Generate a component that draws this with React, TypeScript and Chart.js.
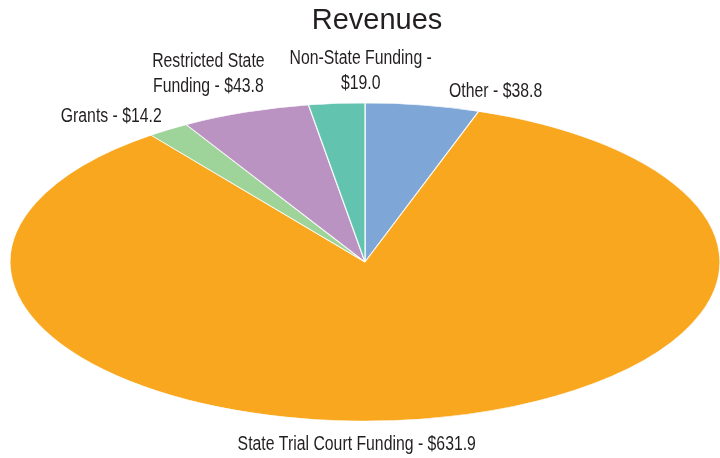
import React, { useEffect, useRef } from "react";
import { Chart, registerables } from "chart.js";

Chart.register(...registerables);

const categories = ["Other", "State Trial Court Funding", "Grants", "Restricted State Funding", "Non-State Funding"];
const values = [38.8, 631.9, 14.2, 43.8, 19.0];
const labelLines = [
  ["Other - $38.8"],
  ["State Trial Court Funding - $631.9"],
  ["Grants - $14.2"],
  ["Restricted State", "Funding - $43.8"],
  ["Non-State Funding -", "$19.0"],
];
const colors = ["#7EA7D8", "#F8A71E", "#9ED39A", "#BB93C3", "#62C3AE"];
// label offset from the slice's outer-edge midpoint (px)
const labelOffsets = [
  [73, -14],
  [-65, 26],
  [-57, -13],
  [-37, -38],
  [24, -33],
];

const CX = 365;
const CY = 262;
const RY = 159;
const RX = 355;
const SX = RX / RY;
const LABEL_FONT = "20px 'Liberation Sans', Arial, sans-serif";
const CONDENSE = 0.79;

export default function App() {
  const ref = useRef<HTMLCanvasElement | null>(null);
  useEffect(() => {
    if (!ref.current) return;
    const ellipse = {
      id: "ellipse",
      beforeDatasetsDraw(chart: any) {
        const ctx = chart.ctx;
        const m = chart.getDatasetMeta(0).data[0];
        ctx.save();
        ctx.translate(m.x, m.y);
        ctx.scale(SX, 1);
        ctx.translate(-m.x, -m.y);
      },
      afterDatasetsDraw(chart: any) {
        chart.ctx.restore();
      },
      afterDraw(chart: any) {
        const ctx = chart.ctx;
        ctx.save();
        ctx.fillStyle = "#231F20";
        ctx.textAlign = "center";
        ctx.textBaseline = "alphabetic";
        ctx.font = "29px 'Liberation Sans', Arial, sans-serif";
        ctx.fillText("Revenues", 377, 29);
        ctx.textBaseline = "middle";
        ctx.font = LABEL_FONT;
        chart.getDatasetMeta(0).data.forEach((arc: any, i: number) => {
          const mid = (arc.startAngle + arc.endAngle) / 2;
          const ax = arc.x + Math.cos(mid) * arc.outerRadius * SX;
          const ay = arc.y + Math.sin(mid) * arc.outerRadius;
          const lx = ax + labelOffsets[i][0];
          const ly = ay + labelOffsets[i][1];
          const lines = labelLines[i];
          const lh = 25;
          const y0 = ly - ((lines.length - 1) * lh) / 2;
          lines.forEach((t, k) => {
            ctx.save();
            ctx.translate(lx, y0 + k * lh);
            ctx.scale(CONDENSE, 1);
            ctx.fillText(t, 0, 0);
            ctx.restore();
          });
        });
        ctx.restore();
      },
    };
    const chart = new Chart(ref.current, {
      type: "pie",
      data: {
        labels: categories,
        datasets: [
          {
            data: values,
            backgroundColor: colors,
            borderColor: "rgba(255,255,255,0.85)",
            borderWidth: 0.6,
            clip: false as any,
          },
        ],
      },
      options: {
        animation: false,
        responsive: true,
        maintainAspectRatio: false,
        radius: RY,
        layout: { padding: { left: CX * 2 - 720, right: 0, top: CY * 2 - 458, bottom: 0 } },
        plugins: { legend: { display: false }, tooltip: { enabled: false }, title: { display: false } },
        events: [],
      } as any,
      plugins: [ellipse],
    });
    return () => chart.destroy();
  }, []);
  return (
    <div style={{ position: "fixed", left: 0, top: 0, width: 720, height: 458, background: "#fff" }}>
      <canvas ref={ref} />
    </div>
  );
}
